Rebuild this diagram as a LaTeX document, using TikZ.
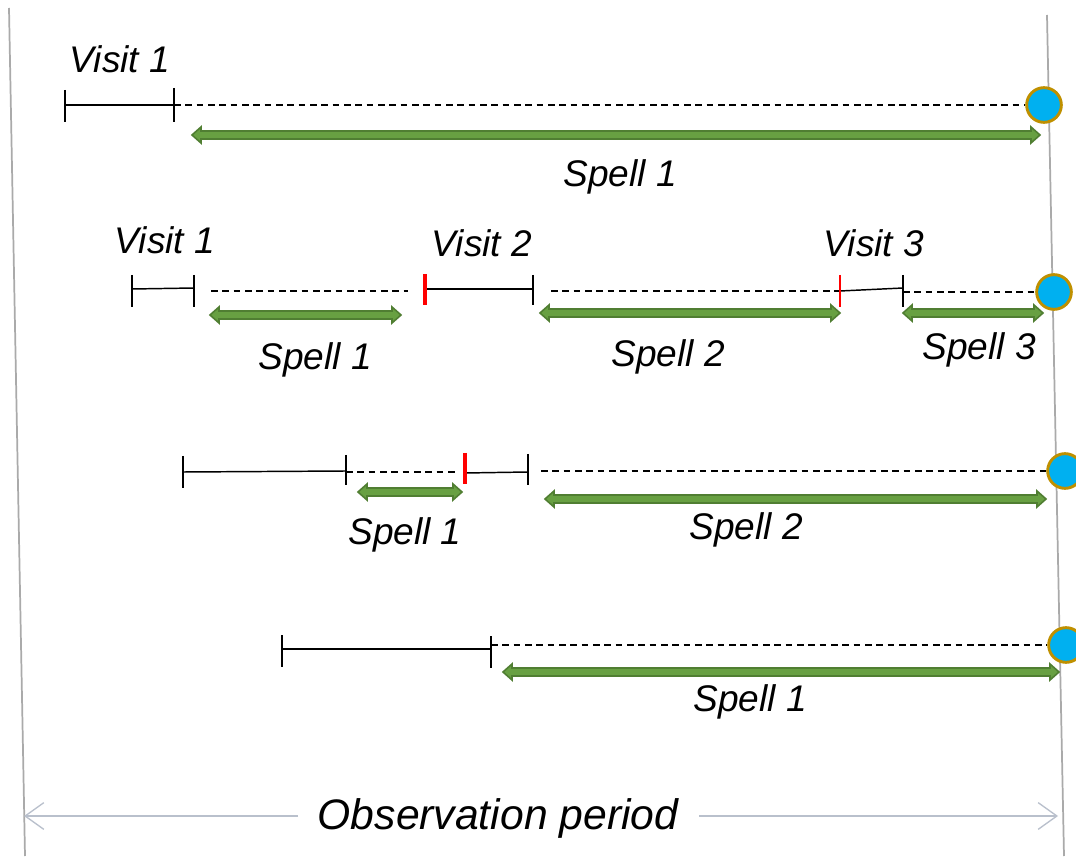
\documentclass[tikz,border=0pt]{standalone}
\usepackage{fontspec}
\setmainfont{Liberation Sans}
\definecolor{gfill}{RGB}{104,160,66}
\definecolor{gdraw}{RGB}{80,126,50}
\definecolor{dotfill}{RGB}{0,176,240}
\definecolor{dotdraw}{RGB}{191,144,0}
\definecolor{framegray}{RGB}{170,170,170}
\definecolor{obsgray}{RGB}{185,192,204}
\newcommand\garrow[3]{%
  \filldraw[gfill, draw=gdraw, line width=1.2pt, line join=miter]
    (#1,#3) -- ++(9,-8) -- ++(0,4) -- (#2-9,#3-4) -- ++(0,-4) -- (#2,#3)
    -- (#2-9,#3+8) -- ++(0,-4) -- (#1+9,#3+4) -- ++(0,4) -- cycle;}
\tikzset{
  lbl/.style={font=\fontsize{27.8}{32}\selectfont\itshape, inner sep=0pt},
  obs/.style={font=\fontsize{32}{38}\selectfont\itshape, inner sep=0pt},
  vis/.style={black, line width=1.1pt},
  tk/.style={black, line width=1.1pt},
  rtk/.style={red, line width=2.4pt},
  rtkthin/.style={red, line width=1pt},
  dsh/.style={black, line width=0.85pt, dash pattern=on 5pt off 3.5pt},
  dot/.style={circle, fill=dotfill, draw=dotdraw, line width=2.2pt, minimum size=26pt, inner sep=0pt},
  frame/.style={framegray, line width=1.3pt},
  obsarr/.style={obsgray, line width=1pt, -{Straight Barb[length=14pt,width=20pt]}},
}
\usetikzlibrary{arrows.meta}
\begin{document}
\begin{tikzpicture}[x=0.75pt,y=-0.75pt]
\clip (0,0) rectangle (1076,859);
\fill[white] (0,0) rectangle (1076,859);
% frame lines
\coordinate (lt) at (9,8); \coordinate (lb) at (25,856);
\coordinate (rt) at (1047,15); \coordinate (rb) at (1064,856);
\draw[frame] (lt) -- (lb);
\draw[frame] (rt) -- (rb);
% observation period
\node[obs] (obs) at (498,818) {Observation period};
\coordinate (oL) at (24,816); \coordinate (oR) at (1058,816);
\draw[obsarr] (298,816) -- (oL);
\draw[obsarr] (699,816) -- (oR);

% ---------- Row 1 ----------
\node[lbl] (r1v1) at (120,59) {Visit 1};
\coordinate (a1) at (65,105); \coordinate (a2) at (174,105);
\draw[vis] (a1) -- (a2);
\draw[tk] (65,90) -- (65,122);
\draw[tk] (174,88) -- (174,122);
\node[dot] (d1) at (1044,105) {};
\draw[dsh] (a2) -- (d1.west);
\garrow{192}{1040}{135}
\node[lbl] (r1s1) at (620,177) {Spell 1};

% ---------- Row 2 ----------
\node[lbl] (r2v1) at (165,240) {Visit 1};
\node[lbl] (r2v2) at (482,243) {Visit 2};
\node[lbl] (r2v3) at (874,243) {Visit 3};
\coordinate (b1) at (132,289); \coordinate (b2) at (194,288);
\draw[vis] (b1) -- (b2);
\draw[tk] (132,275) -- (132,307);
\draw[tk] (194,275) -- (194,307);
\draw[dsh] (211,291) -- (408,291);
\coordinate (b3) at (425,289); \coordinate (b4) at (533,289);
\draw[vis] (b3) -- (b4);
\draw[rtk] (425,274) -- (425,305);
\draw[tk] (533,275) -- (533,305);
\draw[dsh] (551,291) -- (840,291);
\coordinate (b5) at (840,291); \coordinate (b6) at (903,288);
\draw[vis] (b5) -- (b6);
\draw[rtkthin] (840,275) -- (840,307);
\draw[tk] (903,275) -- (903,307);
\node[dot] (d2) at (1054,292) {};
\draw[dsh] (903,292) -- (d2.west);
\garrow{210}{401}{315}
\garrow{540}{840}{313}
\garrow{903}{1043}{313}
\node[lbl] (r2s1) at (315,360) {Spell 1};
\node[lbl] (r2s2) at (668,357) {Spell 2};
\node[lbl] (r2s3) at (979,350) {Spell 3};

% ---------- Row 3 ----------
\coordinate (c1) at (183,472); \coordinate (c2) at (346,471);
\draw[vis] (c1) -- (c2);
\draw[tk] (183,456) -- (183,488);
\draw[tk] (346,455) -- (346,485);
\draw[dsh] (346,472) -- (457,472);
\coordinate (c3) at (465,473); \coordinate (c4) at (528,472);
\draw[vis] (c3) -- (c4);
\draw[rtk] (465,453) -- (465,484);
\draw[tk] (528,454) -- (528,485);
\node[dot] (d3) at (1065,471) {};
\draw[dsh] (541,471) -- (d3.west);
\garrow{358}{462}{492}
\garrow{545}{1046}{499}
\node[lbl] (r3s1) at (405,535) {Spell 1};
\node[lbl] (r3s2) at (746,530) {Spell 2};

% ---------- Row 4 ----------
\coordinate (e1) at (282,649); \coordinate (e2) at (491,649);
\draw[vis] (e1) -- (e2);
\draw[tk] (282,635) -- (282,667);
\draw[tk] (491,636) -- (491,668);
\node[dot] (d4) at (1066,645) {};
\draw[dsh] (491,645) -- (d4.west);
\garrow{503}{1059}{672}
\node[lbl] (r4s1) at (750,702) {Spell 1};
\end{tikzpicture}
\end{document}
